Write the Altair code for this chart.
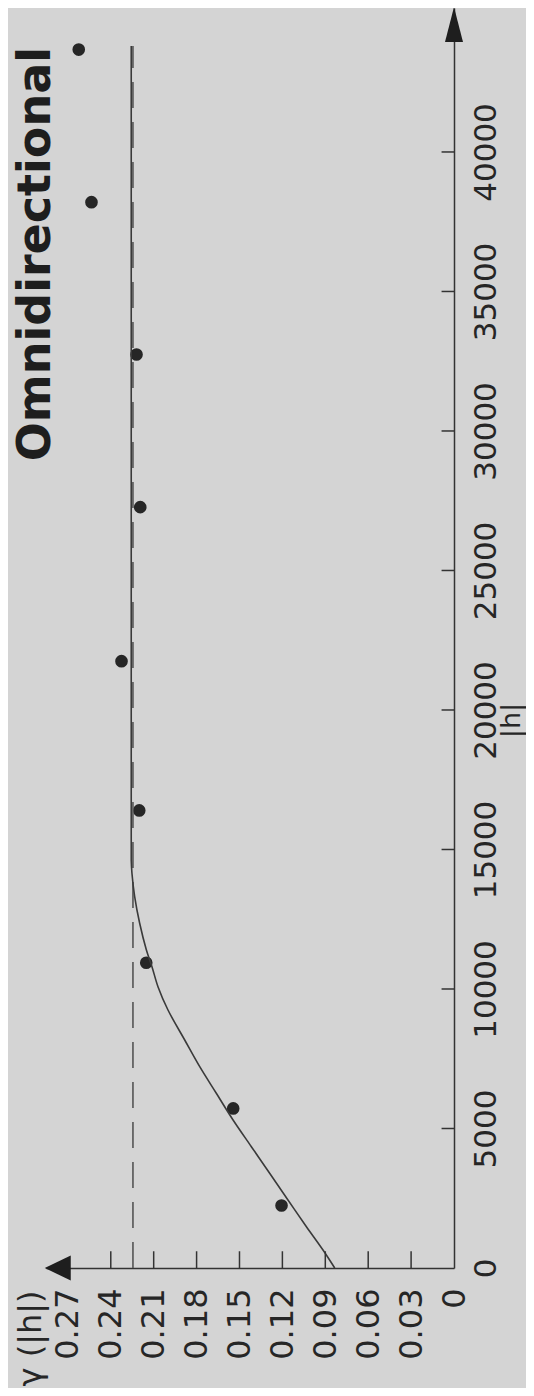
import altair as alt
import pandas as pd

# experimental variogram points (lag |h|, gamma)
lag_h = [2240, 5720, 10940, 16400, 21750, 27270, 32740, 38200, 43670]
gamma_pts = [0.1206, 0.1544, 0.2152, 0.2201, 0.2325, 0.2194, 0.2220, 0.2535, 0.2624]

# fitted model curve: rising part and flat sill part
curve_h = [0, 645, 1480, 2437, 3394, 4348, 5305, 6262, 7215, 8172, 9247,
           10082, 10799, 11398, 12355, 13308, 14147, 14624]
curve_gamma = [0.0834, 0.0916, 0.1032, 0.1161, 0.1289, 0.1417, 0.1545, 0.1662,
               0.1778, 0.1883, 0.2000, 0.2070, 0.2112, 0.2151, 0.2198, 0.2233,
               0.2252, 0.2257]
flat_h = [14624, 43800]
flat_gamma = [0.2257, 0.2257]

# sill (dashed)
sill_h = [0, 43800]
sill_gamma = [0.2245, 0.2245]

gamma_labels = [0, 0.03, 0.06, 0.09, 0.12, 0.15, 0.18, 0.21, 0.24, 0.27]
gamma_ticks = [0.03, 0.06, 0.09, 0.12, 0.15, 0.18, 0.21, 0.24]
h_labels = [0, 5000, 10000, 15000, 20000, 25000, 30000, 35000, 40000]
h_ticks = [5000, 10000, 15000, 20000, 25000, 30000, 35000, 40000]

FONT = "DejaVu Sans"
INK = "#262626"
W, H = 408, 1260
GMAX, HMAX = 0.2853, 45160

xs = alt.Scale(domain=[0, GMAX], reverse=True, nice=False, zero=False)
ys = alt.Scale(domain=[0, HMAX], nice=False, zero=False)

x_axis = alt.Axis(values=gamma_labels, format=".2~f", labelAngle=270, labelAlign="right",
                  labelBaseline="middle", labelPadding=20, ticks=False, tickSize=0,
                  grid=False, domainColor="#333333", domainWidth=1.5,
                  labelFont=FONT, labelFontSize=32, labelColor=INK, labelOverlap=False,
                  labelFlush=False,
                  title="γ (|h|)", titleAngle=270, titleAlign="right", titleBaseline="middle",
                  titleX=-16, titleY=22, titleFont=FONT, titleFontSize=32,
                  titleFontWeight="normal", titleColor=INK)
y_axis = alt.Axis(orient="right", values=h_labels, format="d", labelAngle=270,
                  labelAlign="center", labelBaseline="top", labelPadding=17,
                  ticks=False, tickSize=0, grid=False, domainColor="#333333", domainWidth=1.5,
                  labelFont=FONT, labelFontSize=31, labelColor=INK, labelOverlap=False,
                  labelFlush=False,
                  title="|h|", titleAngle=270, titleAlign="center", titleBaseline="top",
                  titleX=44, titleY=712, titleFont=FONT, titleFontSize=27,
                  titleFontWeight="normal", titleColor=INK)

pts = pd.DataFrame({"gamma": gamma_pts, "h": lag_h})
curve = pd.DataFrame({"gamma": curve_gamma, "h": curve_h})
flat = pd.DataFrame({"gamma": flat_gamma, "h": flat_h})
sill = pd.DataFrame({"gamma": sill_gamma, "h": sill_h})
gt = pd.DataFrame({"gamma": gamma_ticks, "h": [0] * len(gamma_ticks), "h2": [600] * len(gamma_ticks)})
ht = pd.DataFrame({"h": h_ticks, "gamma": [0] * len(h_ticks), "gamma2": [0.0087] * len(h_ticks)})
arrow_up = pd.DataFrame({"gamma": [0], "h": [44568]})
arrow_left = pd.DataFrame({"gamma": [0.2771], "h": [0]})
title_df = pd.DataFrame({"t": ["Omnidirectional"]})


def X(f="gamma"):
    return alt.X(f + ":Q", scale=xs, axis=x_axis)


def Y(f="h"):
    return alt.Y(f + ":Q", scale=ys, axis=y_axis)


points = alt.Chart(pts).mark_circle(size=160, color=INK, opacity=1).encode(x=X(), y=Y())
curve_l = alt.Chart(curve).mark_line(color="#3a3a3a", strokeWidth=1.6,
                                     interpolate="catmull-rom").encode(
    x=X(), y=Y(), order=alt.Order("h:Q"))
flat_l = alt.Chart(flat).mark_line(color="#3a3a3a", strokeWidth=1.6).encode(
    x=X(), y=Y(), order=alt.Order("h:Q"))
sill_l = alt.Chart(sill).mark_line(color="#555555", strokeWidth=1.6, strokeDash=[26, 14]).encode(
    x=X(), y=Y(), order=alt.Order("h:Q"))
gticks = alt.Chart(gt).mark_rule(color="#333333", strokeWidth=1.5).encode(
    x=X(), y=Y(), y2="h2:Q")
hticks = alt.Chart(ht).mark_rule(color="#333333", strokeWidth=1.5).encode(
    y=Y(), x=X(), x2="gamma2:Q")
arr_up = alt.Chart(arrow_up).mark_point(shape="M0,-1L0.514,1L-0.514,1Z", size=1225,
                                        filled=True, color="#1e1e1e", opacity=1,
                                        strokeWidth=0).encode(x=X(), y=Y())
arr_left = alt.Chart(arrow_left).mark_point(shape="M-1,0L1,-0.96L1,0.96Z", size=676,
                                            filled=True, color="#1e1e1e", opacity=1,
                                            strokeWidth=0).encode(x=X(), y=Y())
title = alt.Chart(title_df).mark_text(angle=270, align="right", baseline="alphabetic",
                                      font=FONT, fontSize=46, fontWeight="bold",
                                      color="#1e1e1e").encode(
    text="t:N", x=alt.value(4), y=alt.value(39))

chart = alt.layer(points, sill_l, curve_l, flat_l, gticks, hticks, arr_up, arr_left,
                  title).properties(
    width=W, height=H,
    autosize=alt.AutoSizeParams(type="none"),
    padding={"left": 38, "top": 0, "right": 72, "bottom": 120},
    background="#d4d4d4",
).configure_view(stroke=None)

chart.save("out.html", embed_options={"renderer": "svg", "actions": False})
